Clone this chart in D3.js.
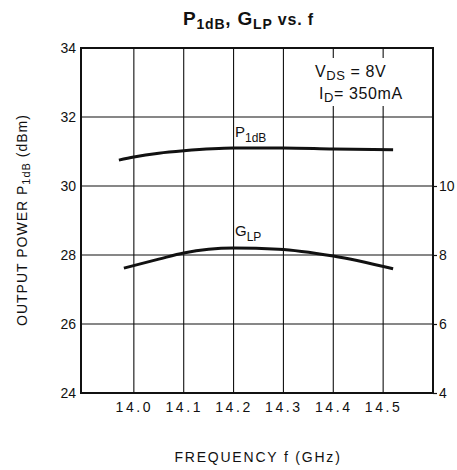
<!DOCTYPE html>
<html>
<head>
<meta charset="utf-8">
<script src="https://cdn.jsdelivr.net/npm/d3@7"></script>
<style>
  body { margin: 0; background: #fff; }
  svg { font-family: "Liberation Sans", Arial, sans-serif; }
</style>
</head>
<body>
<svg width="457" height="470"></svg>
<script>
// data
const freqTicks = [14.0, 14.1, 14.2, 14.3, 14.4, 14.5];
const powerTicks = [24, 26, 28, 30, 32, 34];
const gainTicks = [4, 6, 8, 10];

const p1dbFreq = [13.97, 14.0, 14.05, 14.1, 14.2, 14.3, 14.4, 14.52];
const p1dbVal = [30.75, 30.84, 30.95, 31.02, 31.1, 31.1, 31.07, 31.05];

const glpFreq = [13.98, 14.05, 14.1, 14.2, 14.29, 14.4, 14.52];
const glpVal = [7.62, 7.88, 8.06, 8.2, 8.17, 7.97, 7.6];

const svg = d3.select("svg");
const plotLeft = 81, plotRight = 433, plotTop = 48, plotBottom = 393;

const x = d3.scaleLinear().domain([13.894, 14.6]).range([plotLeft, plotRight]);
const y = d3.scaleLinear().domain([24, 34]).range([plotBottom, plotTop]);
const yR = d3.scaleLinear().domain([4, 14]).range([plotBottom, plotTop]);

// grid
const grid = svg.append("g").attr("stroke", "#111").attr("stroke-width", 1.1);
grid.selectAll("line.v")
  .data(freqTicks)
  .join("line")
  .attr("class", "v")
  .attr("x1", d => x(d)).attr("x2", d => x(d))
  .attr("y1", plotTop).attr("y2", plotBottom);
grid.selectAll("line.h")
  .data(powerTicks.slice(1, -1))
  .join("line")
  .attr("class", "h")
  .attr("x1", plotLeft).attr("x2", plotRight)
  .attr("y1", d => y(d)).attr("y2", d => y(d));

// white box behind conditions text
svg.append("rect")
  .attr("x", 310).attr("y", 58)
  .attr("width", 114).attr("height", 48)
  .attr("fill", "#fff");

// frame
svg.append("rect")
  .attr("x", plotLeft).attr("y", plotTop)
  .attr("width", plotRight - plotLeft).attr("height", plotBottom - plotTop)
  .attr("fill", "none")
  .attr("stroke", "#111")
  .attr("stroke-width", 2);

// axes labels
const leftAxis = d3.axisLeft(y).tickValues(powerTicks).tickSize(0).tickPadding(5);
svg.append("g").attr("transform", `translate(${plotLeft},0)`).call(leftAxis)
  .call(g => g.select(".domain").remove())
  .selectAll("text").attr("font-size", 14).attr("fill", "#111")
  .attr("font-family", "Liberation Sans, Arial, sans-serif");

const rightAxis = d3.axisRight(yR).tickValues(gainTicks).tickSize(4).tickPadding(2);
svg.append("g").attr("transform", `translate(${plotRight},0)`).call(rightAxis)
  .call(g => g.select(".domain").remove())
  .call(g => g.selectAll("line").attr("stroke", "#111").attr("stroke-width", 1.2))
  .selectAll("text").attr("font-size", 14).attr("fill", "#111")
  .attr("font-family", "Liberation Sans, Arial, sans-serif");

const bottomAxis = d3.axisBottom(x).tickValues(freqTicks).tickSize(0).tickPadding(9)
  .tickFormat(d3.format(".1f"));
svg.append("g").attr("transform", `translate(0,${plotBottom})`).call(bottomAxis)
  .call(g => g.select(".domain").remove())
  .selectAll("text").attr("font-size", 14).attr("fill", "#111")
  .attr("letter-spacing", 2.6)
  .attr("font-family", "Liberation Sans, Arial, sans-serif");

// curves
const line = d3.line().curve(d3.curveMonotoneX);
svg.append("path")
  .attr("d", line(p1dbFreq.map((f, i) => [x(f), y(p1dbVal[i])])))
  .attr("fill", "none").attr("stroke", "#111").attr("stroke-width", 3);
svg.append("path")
  .attr("d", line(glpFreq.map((f, i) => [x(f), yR(glpVal[i])])))
  .attr("fill", "none").attr("stroke", "#111").attr("stroke-width", 3);

// curve labels
function subLabel(px, py, main, sub, size) {
  const t = svg.append("text").attr("x", px).attr("y", py)
    .attr("font-size", size).attr("fill", "#111");
  t.append("tspan").text(main);
  t.append("tspan").attr("dy", size * 0.3).attr("font-size", size * 0.8).text(sub);
  return t;
}
subLabel(235, 137, "P", "1dB", 15);
subLabel(235, 236, "G", "LP", 15);

// conditions
const c1 = svg.append("text").attr("x", 315).attr("y", 77)
  .attr("font-size", 16).attr("fill", "#111").attr("letter-spacing", 0.6);
c1.append("tspan").text("V");
c1.append("tspan").attr("dy", 3).attr("font-size", 13).text("DS");
c1.append("tspan").attr("dy", -3).text(" = 8V");
const c2 = svg.append("text").attr("x", 319).attr("y", 99)
  .attr("font-size", 16).attr("fill", "#111").attr("letter-spacing", 0.6);
c2.append("tspan").text("I");
c2.append("tspan").attr("dy", 3).attr("font-size", 13).text("D");
c2.append("tspan").attr("dy", -3).text("= 350mA");

// title
const title = svg.append("text").attr("x", 183).attr("y", 25)
  .attr("font-size", 19).attr("font-weight", "bold").attr("fill", "#111")
  .attr("letter-spacing", 0.8);
title.append("tspan").text("P");
title.append("tspan").attr("dy", 4).attr("font-size", 14).text("1dB");
title.append("tspan").attr("dy", -4).text(", G");
title.append("tspan").attr("dy", 4).attr("font-size", 14).text("LP");
title.append("tspan").attr("dy", -4).attr("font-size", 16).text("  vs. f");

// axis titles
const yt = svg.append("text")
  .attr("transform", "translate(27,220) rotate(-90)")
  .attr("text-anchor", "middle")
  .attr("font-size", 14).attr("fill", "#111")
  .attr("letter-spacing", 1);
yt.append("tspan").text("OUTPUT POWER P");
yt.append("tspan").attr("dy", 3).attr("font-size", 11).text("1dB");
yt.append("tspan").attr("dy", -3).text(" (dBm)");

svg.append("text")
  .attr("x", 258).attr("y", 462)
  .attr("text-anchor", "middle")
  .attr("font-size", 14).attr("fill", "#111")
  .attr("letter-spacing", 1.8)
  .text("FREQUENCY f (GHz)");
</script>
</body>
</html>
